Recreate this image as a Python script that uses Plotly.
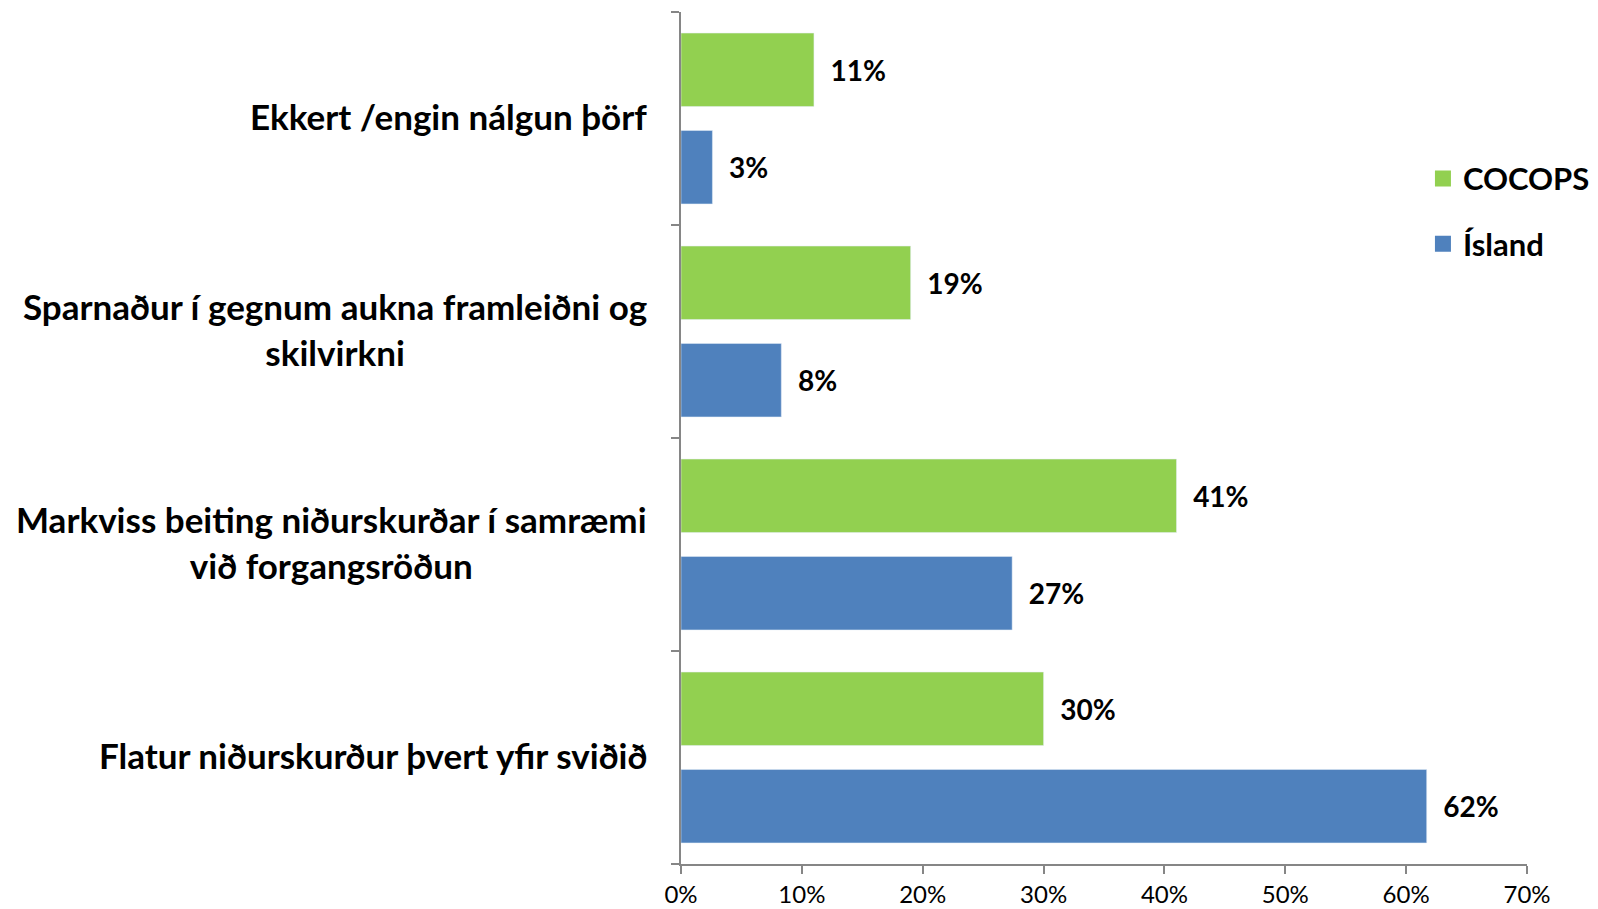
import plotly.graph_objects as go

categories = [
    "Ekkert /engin nálgun þörf",
    "Sparnaður í gegnum aukna framleiðni og<br>skilvirkni",
    "Markviss beiting niðurskurðar í samræmi<br>við forgangsröðun",
    "Flatur niðurskurður þvert yfir sviðið",
]
cocops = [0.11, 0.19, 0.41, 0.30]
island = [0.026, 0.083, 0.274, 0.617]
x_ticks = [0, 0.1, 0.2, 0.3, 0.4, 0.5, 0.6, 0.7]

GREEN = "#92D050"
BLUE = "#4F81BD"
FONT = "Lato"
NB = "\u00a0"

fig = go.Figure()
fig.add_trace(go.Bar(
    y=categories, x=island, name="Ísland", orientation="h",
    marker_color=BLUE, showlegend=False,
    texttemplate=NB * 2 + "%{x:.0%}", textposition="outside",
    textfont=dict(family=FONT, size=28, color="black", weight="bold"),
    cliponaxis=False, constraintext="none",
))
fig.add_trace(go.Bar(
    y=categories, x=cocops, name="COCOPS", orientation="h",
    marker_color=GREEN, showlegend=False,
    texttemplate=NB * 2 + "%{x:.0%}", textposition="outside",
    textfont=dict(family=FONT, size=28, color="black", weight="bold"),
    cliponaxis=False, constraintext="none",
))
# legend entries with larger square swatches
for name, col, rank in [("COCOPS", GREEN, 1), ("Ísland", BLUE, 2)]:
    fig.add_trace(go.Scatter(
        x=[None], y=[None], mode="markers", name=name,
        marker=dict(symbol="square", size=20, color=col),
        legendrank=rank, legendgroup=name, hoverinfo="skip",
    ))

for c in categories:
    fig.add_annotation(
        x=-0.0414, xref="paper", y=c, yref="y",
        text=c, showarrow=False, xanchor="right", yanchor="middle",
        align="center", xshift=3, yshift=3,
        font=dict(family=FONT, size=35, color="black", weight="bold"),
    )

fig.update_layout(
    width=1598, height=909,
    margin=dict(l=681, r=71, t=12, b=45, autoexpand=False),
    paper_bgcolor="white", plot_bgcolor="white",
    barmode="group", bargap=0.085, bargroupgap=0.247,
    showlegend=True,
    legend=dict(
        x=0.877, y=0.836, xanchor="left", yanchor="top",
        traceorder="grouped", tracegroupgap=22,
        font=dict(family=FONT, size=31, color="black", weight="bold"),
        bgcolor="rgba(0,0,0,0)", itemwidth=30,
    ),
    xaxis=dict(
        range=[0, 0.7], tickvals=x_ticks, tickformat=".0%",
        showline=True, linecolor="#868686", linewidth=1.5,
        ticks="outside", ticklen=8, tickcolor="#868686", tickwidth=1.5,
        showgrid=False, zeroline=False,
        tickfont=dict(family=FONT, size=24, color="black"),
    ),
    yaxis=dict(
        categoryorder="array", categoryarray=categories[::-1],
        showline=True, linecolor="#868686", linewidth=1.5,
        ticks="outside", ticklen=8, tickcolor="#868686", tickwidth=1.5,
        tickson="boundaries", showticklabels=False,
        showgrid=False, zeroline=False,
    ),
)

fig.write_html(
    "out.html",
    config={"displayModeBar": False},
    post_script="document.body.style.margin='0';document.body.style.overflow='hidden';",
)
